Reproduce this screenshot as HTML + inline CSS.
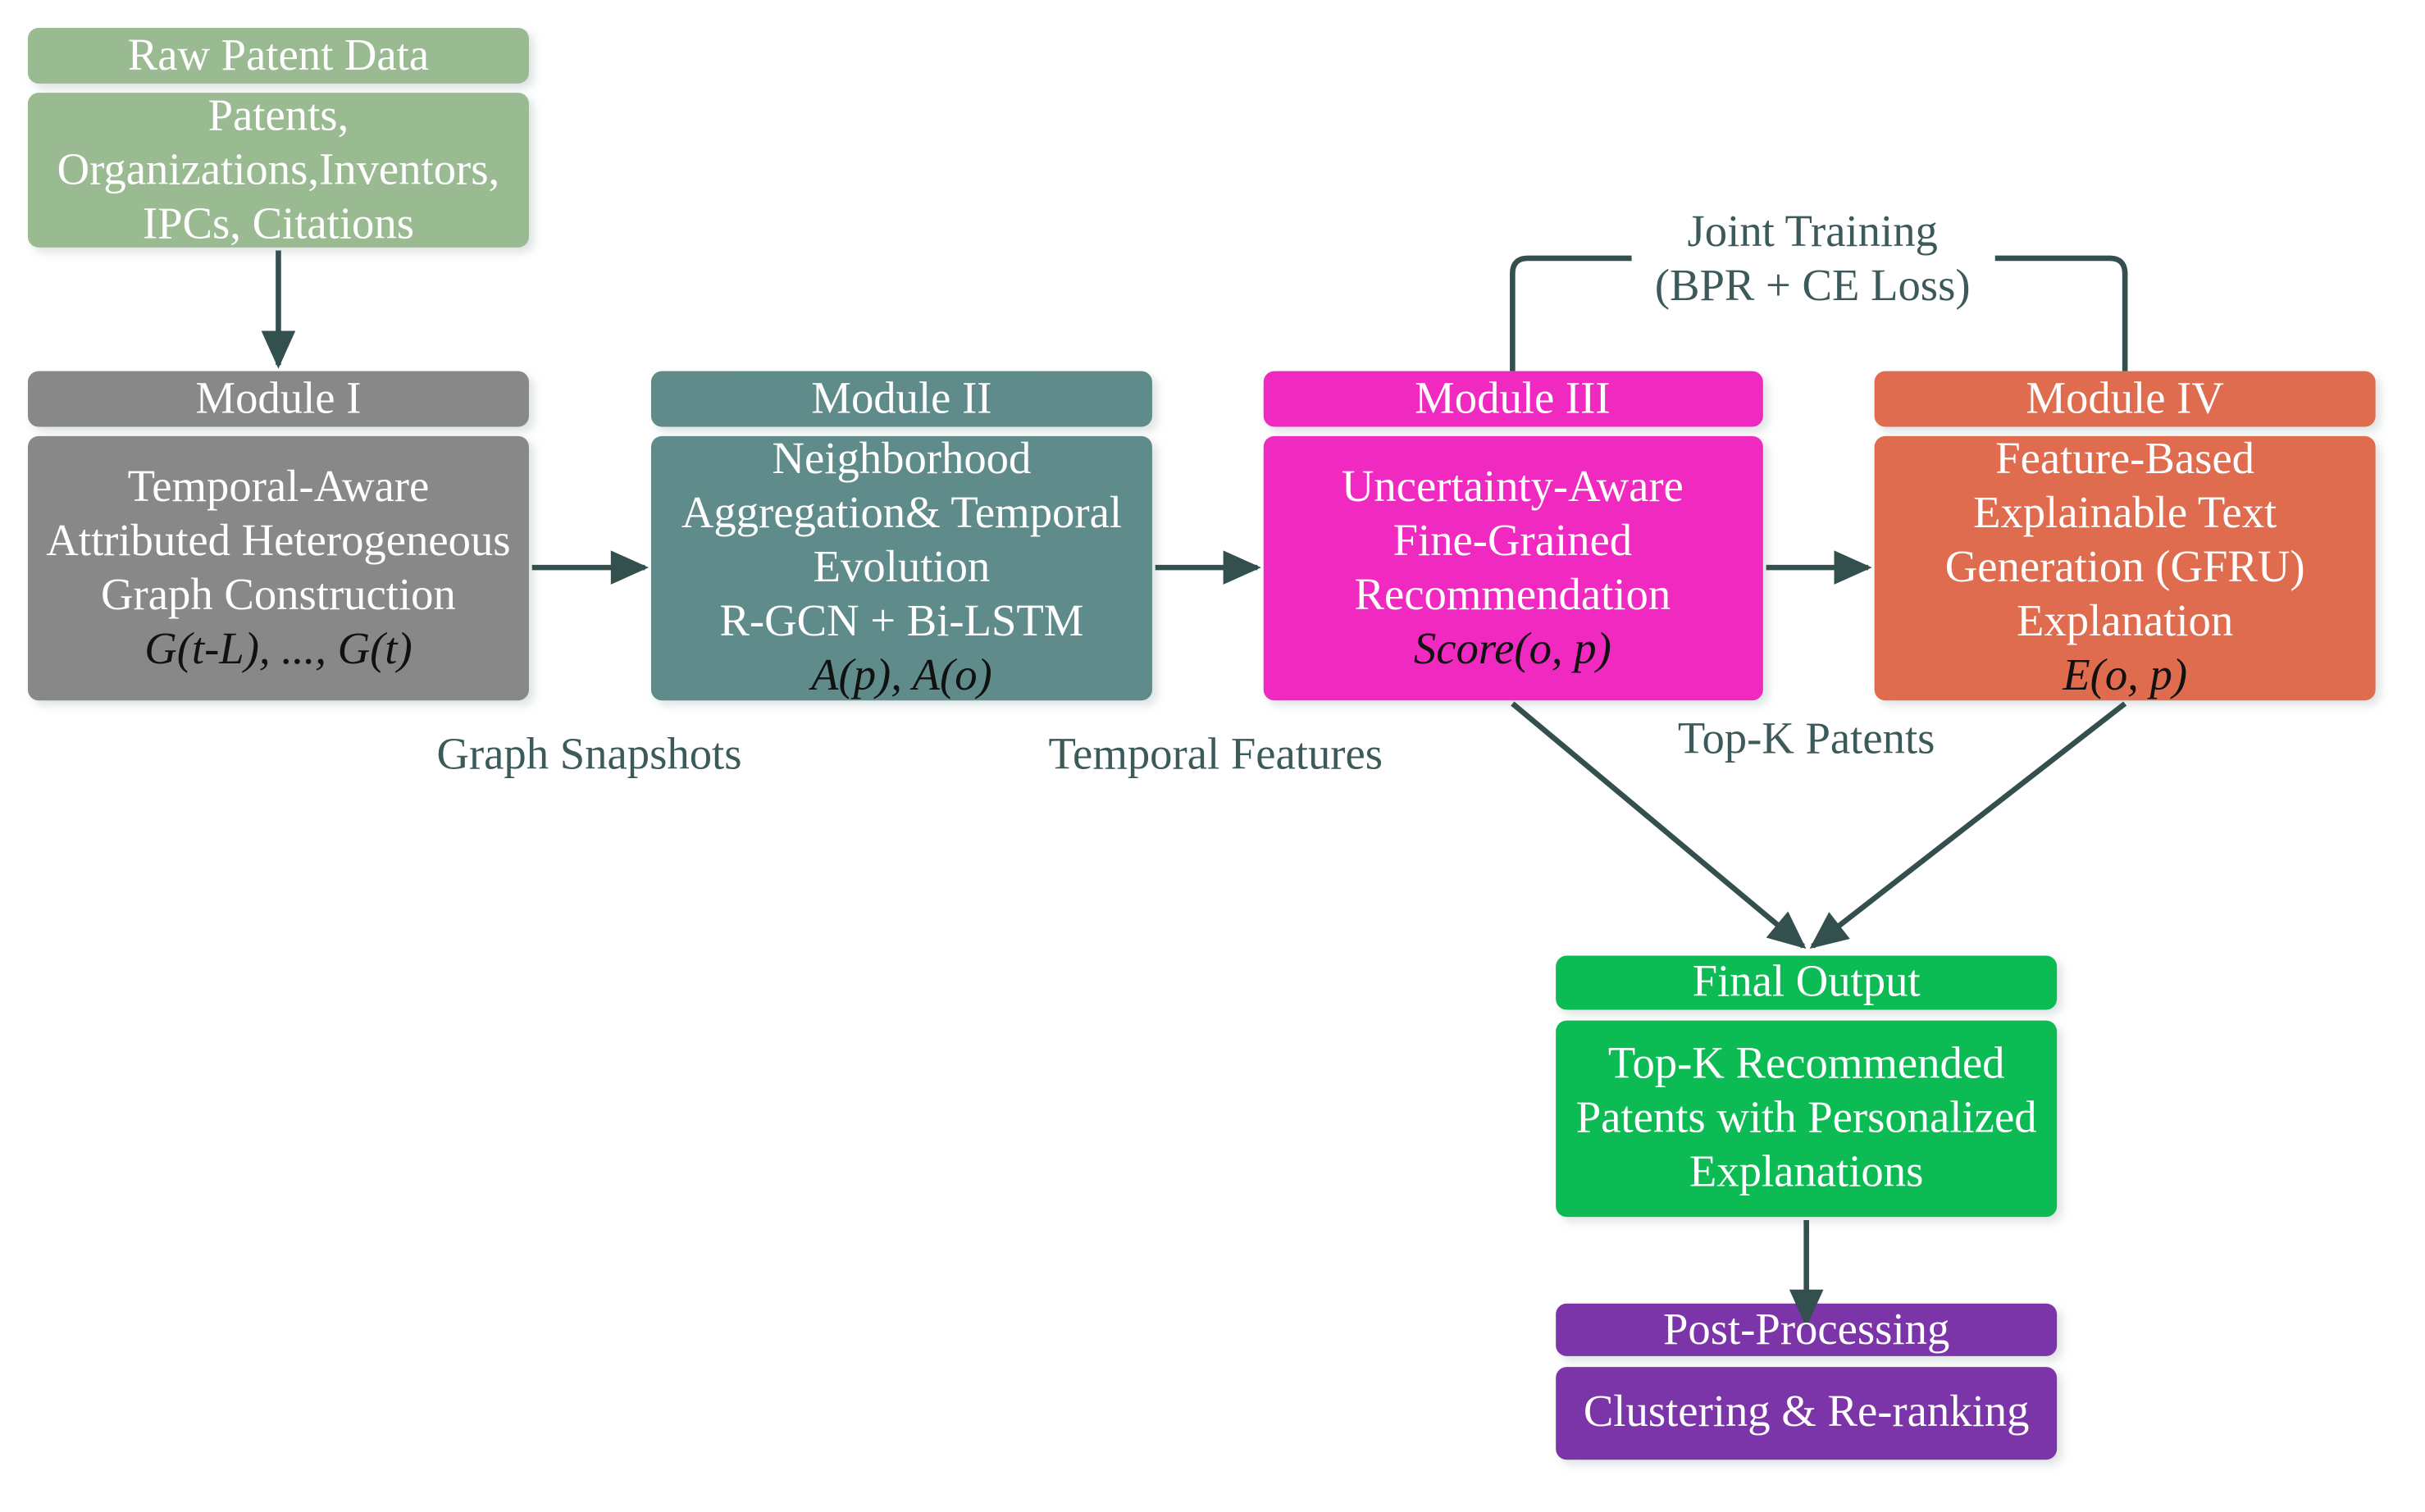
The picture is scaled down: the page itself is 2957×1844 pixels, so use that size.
<!DOCTYPE html>
<html><head><meta charset="utf-8"><style>
html,body{margin:0;padding:0;background:#fff;}
svg{display:block;}
text{font-family:"Liberation Serif",serif;font-size:29px;text-anchor:middle;}
.w{fill:#fff;}
.k{fill:#111;font-style:italic;}
.l{fill:#3d5a5a;}
</style></head><body>
<svg width="2957" height="1844" viewBox="0 0 1568 977.8" preserveAspectRatio="none" xmlns="http://www.w3.org/2000/svg">
<defs>
<filter id="s" x="-10%" y="-10%" width="120%" height="130%"><feDropShadow dx="3" dy="3" stdDeviation="3" flood-color="#9aa" flood-opacity="0.35"/></filter>
<marker id="a" viewBox="0 0 10 10" refX="9" refY="5" markerWidth="8" markerHeight="7" orient="auto" markerUnits="strokeWidth"><path d="M0,0.5 L10,5 L0,9.5 z" fill="#34504e"/></marker>
</defs>
<g filter="url(#s)">
<rect x="18" y="18" width="324" height="36" rx="7" fill="#9aba92"/>
<rect x="18" y="60" width="324" height="100" rx="7" fill="#9aba92"/>
<rect x="18" y="240" width="324" height="36" rx="7" fill="#888888"/>
<rect x="18" y="282" width="324" height="171" rx="7" fill="#888888"/>
<rect x="421" y="240" width="324" height="36" rx="7" fill="#5f8c8a"/>
<rect x="421" y="282" width="324" height="171" rx="7" fill="#5f8c8a"/>
<rect x="817" y="240" width="323" height="36" rx="7" fill="#f02cc0"/>
<rect x="817" y="282" width="323" height="171" rx="7" fill="#f02cc0"/>
<rect x="1212" y="240" width="324" height="36" rx="7" fill="#e06c50"/>
<rect x="1212" y="282" width="324" height="171" rx="7" fill="#e06c50"/>
<rect x="1006" y="618" width="324" height="35" rx="7" fill="#0abb55"/>
<rect x="1006" y="660" width="324" height="127" rx="7" fill="#0abb55"/>
<rect x="1006" y="843" width="324" height="34" rx="7" fill="#7b35a8"/>
<rect x="1006" y="884" width="324" height="60" rx="7" fill="#7b35a8"/>
</g>
<g stroke="#34504e" stroke-width="3.5" fill="none">
<line x1="180" y1="162" x2="180" y2="236" marker-end="url(#a)"/>
<line x1="344" y1="367" x2="417" y2="367" marker-end="url(#a)"/>
<line x1="747" y1="367" x2="813" y2="367" marker-end="url(#a)"/>
<line x1="1142" y1="367" x2="1208" y2="367" marker-end="url(#a)"/>
<line x1="978" y1="455" x2="1166" y2="612" marker-end="url(#a)"/>
<line x1="1374" y1="455" x2="1172" y2="612" marker-end="url(#a)"/>
<line x1="1168" y1="789" x2="1168" y2="856" marker-end="url(#a)"/>
<path d="M978,240 V177 Q978,167 988,167 H1055"/>
<path d="M1290,167 H1364 Q1374,167 1374,177 V240"/>
</g>
<text class="w" x="180" y="45">Raw Patent Data</text>
<text class="w" x="180" y="84">Patents,</text>
<text class="w" x="180" y="119">Organizations,Inventors,</text>
<text class="w" x="180" y="154">IPCs, Citations</text>
<text class="w" x="180" y="267">Module I</text>
<text class="w" x="180" y="324">Temporal-Aware</text>
<text class="w" x="180" y="359">Attributed Heterogeneous</text>
<text class="w" x="180" y="394">Graph Construction</text>
<text class="k" x="180" y="429">G(t-L), ..., G(t)</text>
<text class="w" x="583" y="267">Module II</text>
<text class="w" x="583" y="306">Neighborhood</text>
<text class="w" x="583" y="341">Aggregation&amp; Temporal</text>
<text class="w" x="583" y="376">Evolution</text>
<text class="w" x="583" y="411">R-GCN + Bi-LSTM</text>
<text class="k" x="583" y="446">A(p), A(o)</text>
<text class="w" x="978" y="267">Module III</text>
<text class="w" x="978" y="324">Uncertainty-Aware</text>
<text class="w" x="978" y="359">Fine-Grained</text>
<text class="w" x="978" y="394">Recommendation</text>
<text class="k" x="978" y="429">Score(o, p)</text>
<text class="w" x="1374" y="267">Module IV</text>
<text class="w" x="1374" y="306">Feature-Based</text>
<text class="w" x="1374" y="341">Explainable Text</text>
<text class="w" x="1374" y="376">Generation (GFRU)</text>
<text class="w" x="1374" y="411">Explanation</text>
<text class="k" x="1374" y="446">E(o, p)</text>
<text class="w" x="1168" y="644">Final Output</text>
<text class="w" x="1168" y="697">Top-K Recommended</text>
<text class="w" x="1168" y="732">Patents with Personalized</text>
<text class="w" x="1168" y="767">Explanations</text>
<text class="w" x="1168" y="869">Post-Processing</text>
<text class="w" x="1168" y="922">Clustering &amp; Re-ranking</text>
<text class="l" x="1172" y="159">Joint Training</text>
<text class="l" x="1172" y="194">(BPR + CE Loss)</text>
<text class="l" x="381" y="497">Graph Snapshots</text>
<text class="l" x="786" y="497">Temporal Features</text>
<text class="l" x="1168" y="487">Top-K Patents</text>
</svg>
</body></html>
